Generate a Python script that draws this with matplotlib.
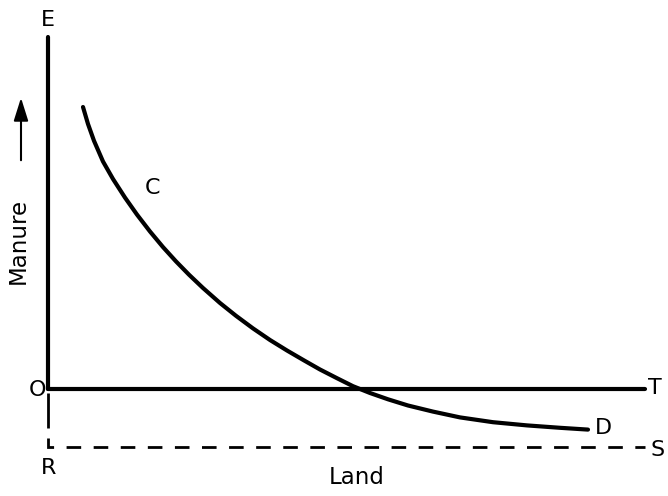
import matplotlib
matplotlib.use('Agg')
import matplotlib.pyplot as plt

# curve CD (land, manure), origin at O
land = [35, 40, 46, 55, 65, 77, 89, 102, 115, 128, 141, 155, 172, 188, 205,
        222, 239, 256, 272, 289, 305, 322, 340, 360, 385, 412, 445, 479, 512, 540]
manure = [282, 265, 248.2, 227.5, 210, 191.4, 174.4, 157.5, 141.9, 127.6, 114.3, 101, 86, 73.2, 60.6,
          49, 38.5, 28.6, 19.5, 10.8, 2.8, -4, -10.3, -16.5, -22.6, -28.4, -33.2, -36.4, -38.8, -40.6]

axis_top = 352      # top of E
axis_right = 597    # end of OT / RS
base_level = -58    # level of RS

plt.rcParams['lines.scale_dashes'] = False
fig = plt.figure(figsize=(6.68, 4.96), dpi=100)
ax = fig.add_axes([0, 0, 1, 1])
ax.set_xlim(-48, 620)
ax.set_ylim(-107, 389)
ax.axis('off')

lw_main = 3.0
# OE and OT
ax.plot([0, 0], [0, axis_top], color='k', lw=lw_main, solid_capstyle='round')
ax.plot([0, axis_right], [0, 0], color='k', lw=lw_main, solid_capstyle='round')

# dashed OR and RS
ax.plot([0, 0], [-4, -39], color='k', lw=2, solid_capstyle='butt')
ax.plot([0, 0, axis_right], [-49, base_level, base_level], color='k', lw=2,
        dashes=(10.5, 9.0), dash_joinstyle='miter')

# curve CD
ax.plot(land, manure, color='k', lw=lw_main, solid_capstyle='round', solid_joinstyle='round')

fs = 16
ax.text(0, 369, 'E', fontsize=fs, ha='center', va='center')
ax.text(-11, -1, 'O', fontsize=fs, ha='center', va='center')
ax.text(1, -79, 'R', fontsize=fs, ha='center', va='center')
ax.text(607, 1, 'T', fontsize=fs, ha='center', va='center')
ax.text(610, -61, 'S', fontsize=fs, ha='center', va='center')
ax.text(555, -39, 'D', fontsize=fs, ha='center', va='center')
ax.text(104, 201, 'C', fontsize=fs, ha='center', va='center')
ax.text(309, -89, 'Land', fontsize=16.5, ha='center', va='center')
ax.text(-30, 148, 'Manure', fontsize=16.5, ha='center', va='center', rotation=90)

# arrow next to Manure
ax.annotate('', xy=(-27, 294), xytext=(-27, 226),
            arrowprops=dict(arrowstyle='-|>,head_length=0.7,head_width=0.22',
                            color='k', lw=1.5, mutation_scale=20))

fig.savefig('out.png', dpi=100)
